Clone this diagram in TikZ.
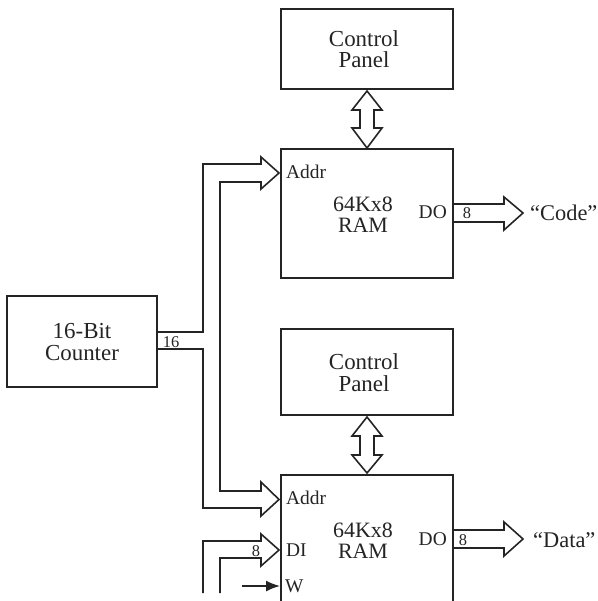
\documentclass[tikz,border=0pt]{standalone}
\usepackage{fontspec}
\setmainfont{Liberation Serif}
\usetikzlibrary{arrows.meta}
\definecolor{ink}{gray}{0.14}
\tikzset{
  box/.style={draw=ink,line width=1.6pt,line join=miter},
  bus/.style={draw=ink,line width=1.6pt,line join=miter,fill=none},
  lbl/.style={font=\fontsize{19.5}{20}\selectfont,inner sep=0pt,text=ink,anchor=base west},
  ttl/.style={font=\fontsize{23}{21.5}\selectfont,inner sep=0pt,align=center,text=ink,anchor=base},
  ram/.style={font=\fontsize{22}{20.5}\selectfont,inner sep=0pt,align=center,text=ink,anchor=base},
  quo/.style={font=\fontsize{22.5}{24}\selectfont,inner sep=0pt,text=ink,anchor=base west},
  num/.style={font=\fontsize{16.5}{17}\selectfont,inner sep=0pt,text=ink,anchor=base},
}
\begin{document}
\begin{tikzpicture}[x=1bp,y=-1bp]
\useasboundingbox (0,0) rectangle (598,601);
% boxes
\draw[box] (281,9) rectangle (453,89);
\node[ttl] (p1) at (364,68) {Control\\Panel};
\draw[box] (281,149) rectangle (453,278);
\node[ram] (r1) at (363,232) {64Kx8\\RAM};
\draw[box] (281,329) rectangle (453,415);
\node[ttl] (p2) at (364,391) {Control\\Panel};
\draw[box] (281,601) -- (281,475) -- (453,475) -- (453,601);
\node[ram] (r2) at (363,558) {64Kx8\\RAM};
\draw[box] (7,296) rectangle (157,387);
\node[ttl] (c) at (82,360) {16-Bit\\Counter};
% counter buses
\draw[bus] (157,332) -- (203,332) -- (203,164) -- (261,164) -- (261,157) -- (279,173) -- (261,189) -- (261,182) -- (220,182) -- (220,491) -- (261,491) -- (261,482) -- (279,499.5) -- (261,516) -- (261,508) -- (203,508) -- (203,349) -- (157,349);
% DI
\draw[bus] (203,593) -- (203,541) -- (261,541) -- (261,534) -- (279,550) -- (261,566) -- (261,558) -- (220,558) -- (220,593);
% W
\coordinate (ws) at (242,586);
\coordinate (we) at (280,586);
\draw[line width=1.6pt,draw=ink,-{Latex[length=14pt,width=11pt]}] (ws) -- (we);
% DO
\draw[bus] (453,204) -- (504,204) -- (504,197) -- (523,213) -- (504,230) -- (504,222) -- (453,222);
\draw[bus] (453,530) -- (504,530) -- (504,522) -- (523,539) -- (504,556) -- (504,548) -- (453,548);
% double arrows
\draw[bus] (360,110) -- (352,110) -- (367,91) -- (382,110) -- (374,110) -- (374,128) -- (382,128) -- (367,148) -- (352,128) -- (360,128) -- cycle;
\draw[bus] (360,436) -- (352,436) -- (367,417) -- (382,436) -- (374,436) -- (374,455) -- (382,455) -- (367,473) -- (352,455) -- (360,455) -- cycle;
% labels
\node[lbl] (a1) at (286,179) {Addr};
\node[lbl] (a2) at (286,504) {Addr};
\node[lbl] (di) at (286,556) {DI};
\node[lbl] (w) at (285,592) {W};
\node[lbl,anchor=base east] (do1) at (447,218) {DO};
\node[lbl,anchor=base east] (do2) at (447,545) {DO};
\node[num] (n16) at (171,347) {16};
\node[num] (n8a) at (467,218) {8};
\node[num] (n8b) at (463,545) {8};
\node[num] (n8c) at (256,556) {8};
\node[quo] (code) at (530,220) {“Code”};
\node[quo] (data) at (533,547) {“Data”};
\end{tikzpicture}
\end{document}
